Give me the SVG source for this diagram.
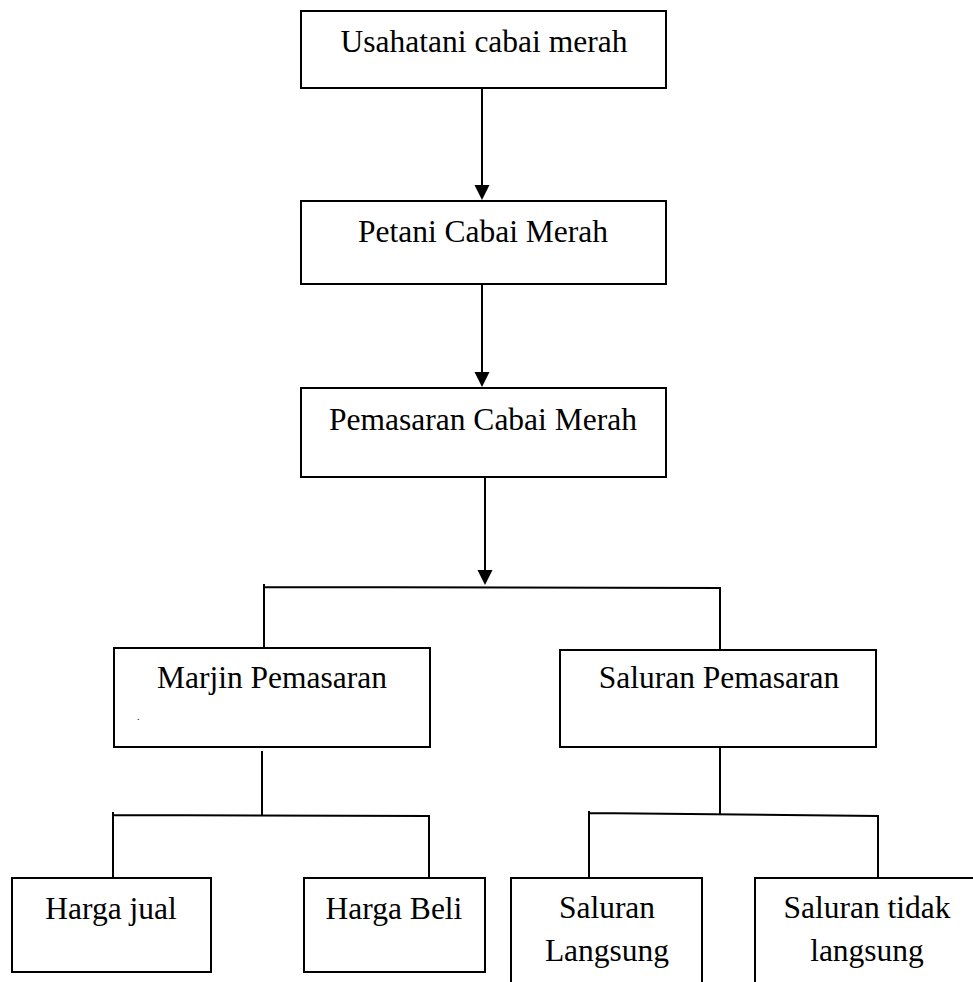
<svg xmlns="http://www.w3.org/2000/svg" width="973" height="982" viewBox="0 0 973 982">
<style>
.box{fill:#fff;stroke:#000;stroke-width:2}
.ln{fill:none;stroke:#000;stroke-width:2}
.t{font-family:"Liberation Serif","Times New Roman",serif;font-size:31.5px;fill:#000;text-anchor:middle}
</style>
<defs>
<marker id="arr" markerUnits="userSpaceOnUse" markerWidth="16" markerHeight="16" refX="8" refY="15" orient="auto-start-reverse" viewBox="0 0 16 16">
<path d="M0.5,0 L15.5,0 L8,15 Z" fill="#000"/>
</marker>
</defs>
<rect width="973" height="982" fill="#fff"/>
<g id="connectors">
<line class="ln" x1="482" y1="88" x2="482" y2="185"/>
<path d="M474.5,185 L489.5,185 L482,200 Z" fill="#000"/>
<line class="ln" x1="482" y1="284" x2="482" y2="372"/>
<path d="M474.5,372 L489.5,372 L482,387 Z" fill="#000"/>
<line class="ln" x1="485" y1="477" x2="485" y2="570"/>
<path d="M477.5,570 L492.5,570 L485,585 Z" fill="#000"/>
<path class="ln" d="M264,584 L264,648 M264,587 L720,588 L720,650"/>
<path class="ln" d="M262,751 L262,816 M113,812 L113,878 M113,815 L429,816 L429,878"/>
<path class="ln" d="M720,747 L720,814 M589,811 L589,878 M589,813 L878,816 L878,878"/>
</g>
<g id="n1"><rect class="box" x="301" y="11" width="365" height="77"/><text class="t" x="484" y="52">Usahatani cabai merah</text></g>
<g id="n2"><rect class="box" x="301" y="201" width="365" height="83"/><text class="t" x="483" y="242">Petani Cabai Merah</text></g>
<g id="n3"><rect class="box" x="301" y="388" width="365" height="89"/><text class="t" x="483" y="430">Pemasaran Cabai Merah</text></g>
<g id="n4"><rect class="box" x="114" y="648" width="316" height="99"/><text class="t" x="272" y="688">Marjin Pemasaran</text><text x="137" y="720" font-family="Liberation Serif,serif" font-size="10" fill="#000">.</text></g>
<g id="n5"><rect class="box" x="560" y="650" width="316" height="97"/><text class="t" x="719" y="688">Saluran Pemasaran</text></g>
<g id="n6"><rect class="box" x="12" y="878" width="199" height="94"/><text class="t" x="111" y="919">Harga jual</text></g>
<g id="n7"><rect class="box" x="304" y="878" width="181" height="94"/><text class="t" x="394" y="919">Harga Beli</text></g>
<g id="n8"><path class="ln" d="M511,990 L511,878 L702,878 L702,990"/><text class="t" x="607" y="918">Saluran</text><text class="t" x="607" y="961">Langsung</text></g>
<g id="n9"><path class="ln" d="M755,990 L755,878 L985,878"/><text class="t" x="867" y="918">Saluran tidak</text><text class="t" x="867" y="961">langsung</text></g>
</svg>
